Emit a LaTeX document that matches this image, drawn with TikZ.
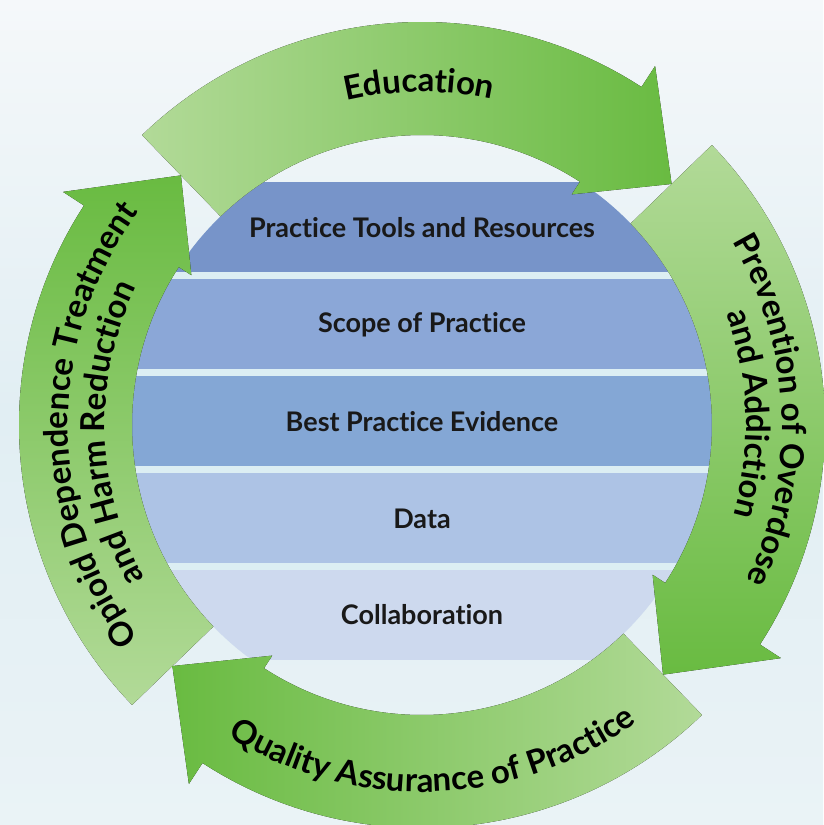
\documentclass[tikz,border=0pt]{standalone}
\usepackage{fontspec}
\setmainfont[Ligatures={NoCommon}]{Lato}
\usetikzlibrary{decorations.text}

\definecolor{greenL}{HTML}{B2DA98}
\definecolor{greenD}{HTML}{69BB41}
\definecolor{bandA}{HTML}{7794C9}
\definecolor{bandB}{HTML}{8BA7D7}
\definecolor{bandC}{HTML}{84A7D5}
\definecolor{bandD}{HTML}{ADC3E5}
\definecolor{bandE}{HTML}{CDD9EE}
\definecolor{sepline}{HTML}{DCEEF3}
\definecolor{skyTop}{HTML}{F5F8FA}
\definecolor{skyMid}{HTML}{E1EEF3}
\definecolor{skyBot}{HTML}{EAF3F6}

\newcommand{\cyclefont}{\bfseries\fontsize{33}{38}\selectfont}

\tikzset{
    bandlabel/.style={font=\bfseries\fontsize{27}{31}\selectfont, text=black!90},
    curvetext/.style={decorate,
      decoration={text along path, text align=center, text={|\cyclefont|#1}}},
    topshade/.style={left color=greenL, right color=greenD},
    rightshade/.style={top color=greenL, bottom color=greenD},
    bottomshade/.style={right color=greenL, left color=greenD},
    leftshade/.style={bottom color=greenL, top color=greenD},
}

\begin{document}
\begin{tikzpicture}[x=1pt,y=1pt]
    % background
    \fill[top color=skyTop, bottom color=skyBot, middle color=skyMid]
        (-422,-400) rectangle (401,425);
    \useasboundingbox (-422,-400) rectangle (401,425);

    % central disc with bands
    \begin{scope}
        \clip (0,0) circle[radius=290];
        \fill[sepline] (-290,-235) rectangle (290,243);
        \foreach \i/\c in {0/bandA,1/bandB,2/bandC,3/bandD,4/bandE}
            \fill[\c] (-290,243-97*\i) rectangle (290,153-97*\i);
    \end{scope}
    \node[bandlabel] (tools)    at (0,197)  {Practice Tools and Resources};
    \node[bandlabel] (scope)    at (0,100)  {Scope of Practice};
    \node[bandlabel] (evidence) at (0,3)    {Best Practice Evidence};
    \node[bandlabel] (data)     at (0,-94)  {Data};
    \node[bandlabel] (collab)   at (0,-190) {Collaboration};

    % cycle arrows
    \foreach \a/\sty in {134/topshade, 44/rightshade, -46/bottomshade, -136/leftshade}
        \fill[\sty] (\a:403) arc[start angle=\a, end angle=\a-77, radius=403]
            -- (\a-77:428) -- (\a-90:347) -- (\a-77:275) -- (\a-77:290)
            arc[start angle=\a-77, end angle=\a, radius=290] -- cycle;

    % arrow labels
    \path[curvetext={Education}] (150:333) arc[start angle=150, end angle=31, radius=333];
    \path[curvetext={Prevention of Overdose}] (62:360) arc[start angle=62, end angle=-57, radius=360];
    \path[curvetext={and Addiction}] (60:324) arc[start angle=60, end angle=-56, radius=324];
    \path[curvetext={Quality Assurance of Practice}] (212:367) arc[start angle=212, end angle=332, radius=367];
    \path[curvetext={Opioid Dependence Treatment}] (240:354) arc[start angle=240, end angle=120, radius=354];
    \path[curvetext={and Harm Reduction}] (241:317) arc[start angle=241, end angle=122, radius=317];
\end{tikzpicture}
\end{document}
